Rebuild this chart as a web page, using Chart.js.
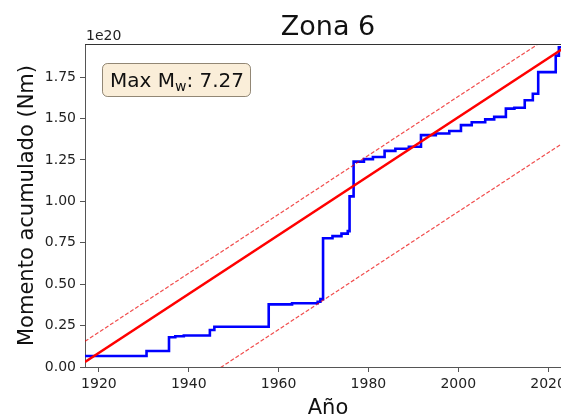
<!DOCTYPE html>
<html>
<head>
<meta charset="utf-8">
<script src="https://cdn.jsdelivr.net/npm/chart.js@4.4.1/dist/chart.umd.min.js"></script>
<style>
  html, body { margin: 0; padding: 0; background: #fff; }
  #wrap { width: 561px; height: 418px; overflow: hidden; position: relative; }
  canvas { display: block; }
</style>
</head>
<body>
<div id="wrap"><canvas id="g1" width="571" height="418"></canvas></div>
<script>
// cumulative seismic moment (units of 1e20 Nm)
var eventYears = [1916.9, 1930.6, 1935.6, 1937.0, 1938.9, 1944.7, 1945.7, 1957.8, 1963.0, 1968.7,
    1969.3, 1969.9, 1972.0, 1974.0, 1975.4, 1975.8, 1976.7, 1979.0, 1981.0, 1983.6,
    1986.0, 1989.0, 1991.7, 1995.0, 1998.0, 2000.6, 2003.0, 2006.0, 2008.0, 2010.6,
    2012.5, 2014.8, 2016.6, 2017.8, 2021.7, 2022.4, 2024.0];
var cumMoment = [0.066, 0.097, 0.180, 0.186, 0.190, 0.223, 0.243, 0.378, 0.385, 0.394,
    0.410, 0.777, 0.790, 0.805, 0.820, 1.030, 1.240, 1.255, 1.268, 1.305,
    1.318, 1.330, 1.400, 1.410, 1.425, 1.460, 1.478, 1.495, 1.510, 1.560,
    1.565, 1.610, 1.650, 1.780, 1.880, 1.930, 1.950];

// linear trend and its bounds (end points only)
var fitYears = [1916.9, 2025.1];
var fitValues = [0.03, 1.954];
var upperValues = [0.155, 2.08];
var lowerValues = [-0.54, 1.384];

var xTicks = [1920, 1940, 1960, 1980, 2000, 2020];
var yTicks = [0, 0.25, 0.5, 0.75, 1.0, 1.25, 1.5, 1.75];

function pts(xs, ys) {
    return xs.map(function (x, i) { return {x: x, y: ys[i]}; });
}

var FONT = '"DejaVu Sans", sans-serif';

// titles, offset text, top spine and the info box
var annot = {
    id: 'annot',
    afterDraw: function (chart) {
        var ctx = chart.ctx, a = chart.chartArea;
        ctx.save();
        ctx.strokeStyle = '#333';
        ctx.lineWidth = 1;
        ctx.beginPath();
        ctx.moveTo(a.left, a.top + 0.5);
        ctx.lineTo(a.right, a.top + 0.5);
        ctx.stroke();

        ctx.fillStyle = '#111';
        ctx.textBaseline = 'alphabetic';
        ctx.textAlign = 'center';
        ctx.font = '27px ' + FONT;
        ctx.fillText('Zona 6', (a.left + a.right) / 2, 35);

        ctx.font = '21px ' + FONT;
        ctx.fillText('Año', (a.left + a.right) / 2, 414);

        ctx.save();
        ctx.translate(33, (a.top + a.bottom) / 2);
        ctx.rotate(-Math.PI / 2);
        ctx.fillText('Momento acumulado (Nm)', 0, 0);
        ctx.restore();

        ctx.textAlign = 'left';
        ctx.font = '14px ' + FONT;
        ctx.fillStyle = '#222';
        ctx.fillText('1e20', a.left + 1, 40);

        // box
        var bx = 102.5, by = 63.5, bw = 148, bh = 33, r = 5;
        ctx.beginPath();
        ctx.moveTo(bx + r, by);
        ctx.arcTo(bx + bw, by, bx + bw, by + bh, r);
        ctx.arcTo(bx + bw, by + bh, bx, by + bh, r);
        ctx.arcTo(bx, by + bh, bx, by, r);
        ctx.arcTo(bx, by, bx + bw, by, r);
        ctx.closePath();
        ctx.fillStyle = 'rgba(245,222,179,0.5)';
        ctx.fill();
        ctx.strokeStyle = 'rgba(60,45,20,0.55)';
        ctx.stroke();

        ctx.fillStyle = '#111';
        var tx = 110, ty = 87;
        ctx.font = '20px ' + FONT;
        ctx.fillText('Max M', tx, ty);
        tx += ctx.measureText('Max M').width;
        ctx.font = '14px ' + FONT;
        ctx.fillText('w', tx, ty + 4);
        tx += ctx.measureText('w').width;
        ctx.font = '20px ' + FONT;
        ctx.fillText(': 7.27', tx, ty);
        ctx.restore();
    }
};

new Chart(document.getElementById('g1'), {
    type: 'line',
    data: {
        datasets: [
            {
                label: 'ajuste',
                data: pts(fitYears, fitValues),
                borderColor: '#ff0000',
                borderWidth: 2.5,
                pointRadius: 0
            },
            {
                label: 'sup',
                data: pts(fitYears, upperValues),
                borderColor: 'rgba(235,0,0,0.7)',
                borderWidth: 1.2,
                borderDash: [4, 2],
                pointRadius: 0
            },
            {
                label: 'inf',
                data: pts(fitYears, lowerValues),
                borderColor: 'rgba(235,0,0,0.7)',
                borderWidth: 1.2,
                borderDash: [4, 2],
                pointRadius: 0
            },
            {
                label: 'Momento',
                data: pts(eventYears, cumMoment),
                borderColor: '#0000ff',
                borderWidth: 2.6,
                stepped: true,
                pointRadius: 0
            }
        ]
    },
    options: {
        responsive: false,
        animation: false,
        devicePixelRatio: 1,
        layout: {padding: {top: 44, right: 0, left: 0, bottom: 0}},
        plugins: {legend: {display: false}, tooltip: {enabled: false}},
        scales: {
            x: {
                type: 'linear',
                min: 1916.9,
                max: 2025.1,
                afterFit: function (s) { s.height = 51; },
                afterBuildTicks: function (s) { s.ticks = xTicks.map(function (v) { return {value: v}; }); },
                grid: {drawOnChartArea: false, tickLength: 5, color: '#555'},
                border: {color: '#555', width: 1},
                ticks: {font: {family: FONT, size: 14}, color: '#222', padding: 4, maxRotation: 0,
                    callback: function (v) { return String(v); }}
            },
            y: {
                min: 0,
                max: 1.95,
                afterFit: function (s) { s.width = 85; },
                afterBuildTicks: function (s) { s.ticks = yTicks.map(function (v) { return {value: v}; }); },
                grid: {drawOnChartArea: false, tickLength: 5, color: '#555'},
                border: {color: '#555', width: 1},
                ticks: {font: {family: FONT, size: 14}, color: '#222', padding: 4,
                    callback: function (v) { return v.toFixed(2); }}
            }
        }
    },
    plugins: [annot]
});
</script>
</body>
</html>
